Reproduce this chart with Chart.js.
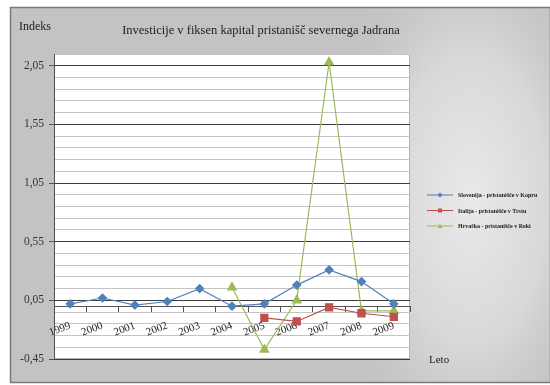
<!DOCTYPE html>
<html>
<head>
<meta charset="utf-8">
<script src="https://cdn.jsdelivr.net/npm/chart.js@4.4.0/dist/chart.umd.min.js"></script>
<style>
  html, body { margin: 0; padding: 0; background: #ffffff; }
  #wrap { width: 550px; height: 385px; position: relative; }
</style>
</head>
<body>
<div id="wrap"><canvas id="c" width="550" height="385"></canvas></div>
<script>
// Leta (kategorije na osi x)
const years = ['1999', '2000', '2001', '2002', '2003', '2004', '2005', '2006', '2007', '2008', '2009'];

// Indeksi investicij po pristaniščih
const koper = [0.02, 0.07, 0.01, 0.04, 0.15, 0.00, 0.02, 0.18, 0.31, 0.21, 0.02];
const trst  = [null, null, null, null, null, null, -0.10, -0.13, -0.01, -0.06, -0.09];
const reka  = [null, null, null, null, null, 0.16, -0.37, 0.05, 2.08, -0.04, -0.04];

const seriesNames = [
  'Slovenija - pristanišče v Kopru',
  'Italija - pristanišče v Trstu',
  'Hrvaška - pristanišče v Reki'
];

// Os y: obseg, korak pomožnih črt in označene vrednosti
const yMin = -0.45;
const yMax = 2.15;
const yStep = 0.1;
const yLabelled = [2.05, 1.55, 1.05, 0.55, 0.05, -0.45];

const chartTitle = 'Investicije v fiksen kapital pristanišč severnega Jadrana';
const yTitle = 'Indeks';
const xTitle = 'Leto';

const SERIF = '"Liberation Serif", "Times New Roman", serif';

function isLabelled(v) {
  return yLabelled.some(m => Math.abs(m - v) < 1e-6);
}

// Ozadje okvirja, bela risalna površina in okvir
const backdrop = {
  id: 'backdrop',
  beforeDraw(chart) {
    const ctx = chart.ctx;
    const a = chart.chartArea;
    ctx.save();
    ctx.fillStyle = '#ffffff';
    ctx.fillRect(0, 0, chart.width, chart.height);
    ctx.fillStyle = '#c3c3c3';
    ctx.fillRect(10.5, 7.5, 540, 375);
    // svetlejši pas na desni strani (raztegnjen radialni preliv)
    ctx.save();
    ctx.beginPath();
    ctx.rect(10.5, 7.5, 540, 375);
    ctx.clip();
    ctx.translate(470, 200);
    ctx.scale(1, 1.9);
    const g = ctx.createRadialGradient(0, 0, 5, 0, 0, 150);
    g.addColorStop(0, '#e8e8e8');
    g.addColorStop(0.5, '#d8d8d8');
    g.addColorStop(1, 'rgba(195,195,195,0)');
    ctx.fillStyle = g;
    ctx.fillRect(-470, -110, 560, 210);
    ctx.restore();
    ctx.strokeStyle = '#7a7a7a';
    ctx.lineWidth = 1.5;
    ctx.strokeRect(10.5, 7.5, 540, 375);
    ctx.fillStyle = '#ffffff';
    ctx.fillRect(a.left, a.top, a.right - a.left, a.bottom - a.top);
    ctx.strokeStyle = '#b4b4b4';
    ctx.lineWidth = 1;
    ctx.strokeRect(a.left + 0.5, a.top + 0.5, a.right - a.left - 1, a.bottom - a.top - 1);
    ctx.restore();
  }
};

// Naslov, naslova osi in legenda
const annotations = {
  id: 'annotations',
  afterDraw(chart) {
    const ctx = chart.ctx;
    ctx.save();
    ctx.fillStyle = '#222222';
    ctx.textBaseline = 'alphabetic';
    ctx.font = '12px ' + SERIF;
    ctx.textAlign = 'left';
    ctx.fillText(yTitle, 19, 30);
    ctx.textAlign = 'center';
    ctx.font = '12.5px ' + SERIF;
    ctx.fillText(chartTitle, 261, 34);
    ctx.textAlign = 'left';
    ctx.font = '11px ' + SERIF;
    ctx.fillText(xTitle, 429, 363);

    const rows = [195, 210.5, 226];
    chart.data.datasets.forEach((ds, i) => {
      const y = rows[i];
      ctx.strokeStyle = ds.borderColor;
      ctx.lineWidth = 1;
      ctx.beginPath();
      ctx.moveTo(427, y);
      ctx.lineTo(453, y);
      ctx.stroke();
      ctx.fillStyle = ds.borderColor;
      ctx.beginPath();
      if (ds.pointStyle === 'rect') {
        ctx.rect(438, y - 2, 4, 4);
      } else if (ds.pointStyle === 'triangle') {
        ctx.moveTo(440, y - 2.5);
        ctx.lineTo(442.5, y + 2);
        ctx.lineTo(437.5, y + 2);
        ctx.closePath();
      } else {
        ctx.moveTo(440, y - 2.5);
        ctx.lineTo(442.5, y);
        ctx.lineTo(440, y + 2.5);
        ctx.lineTo(437.5, y);
        ctx.closePath();
      }
      ctx.fill();
      ctx.fillStyle = '#1a1a1a';
      ctx.font = 'bold 6px ' + SERIF;
      ctx.textBaseline = 'middle';
      ctx.fillText(ds.label, 458, y + 0.5);
    });
    ctx.restore();
  }
};

const chart = new Chart(document.getElementById('c'), {
  type: 'line',
  data: {
    labels: years,
    datasets: [
      {
        label: seriesNames[0], data: koper,
        borderColor: '#4f81bd', backgroundColor: '#4f81bd',
        pointStyle: 'rectRot', pointRadius: 4, borderWidth: 1.2
      },
      {
        label: seriesNames[1], data: trst,
        borderColor: '#c0504d', backgroundColor: '#c0504d',
        pointStyle: 'rect', pointRadius: 5, borderWidth: 1.2
      },
      {
        label: seriesNames[2], data: reka,
        borderColor: '#9bbb59', backgroundColor: '#9bbb59',
        pointStyle: 'triangle', pointRadius: 5, borderWidth: 1.2
      }
    ]
  },
  options: {
    responsive: false,
    animation: false,
    devicePixelRatio: 1,
    layout: { padding: { left: 0, top: 54, right: 140, bottom: 26 } },
    plugins: {
      legend: { display: false },
      title: { display: false },
      tooltip: { enabled: false }
    },
    elements: {
      line: { tension: 0 },
      point: { borderWidth: 0 }
    },
    scales: {
      x: {
        type: 'category',
        position: { y: 0 },
        offset: true,
        grid: {
          offset: true,
          drawOnChartArea: false,
          drawTicks: true,
          tickLength: 5,
          tickColor: '#505050'
        },
        border: { display: true, color: '#505050', width: 1 },
        ticks: {
          autoSkip: false,
          minRotation: 20,
          maxRotation: 20,
          padding: 8,
          color: '#222222',
          font: { family: SERIF, size: 11 }
        }
      },
      y: {
        type: 'linear',
        min: yMin,
        max: yMax,
        afterBuildTicks(scale) {
          const n = Math.round((yMax - yMin) / yStep);
          const t = [];
          for (let i = 0; i <= n; i++) {
            t.push({ value: Math.round((yMin + i * yStep) * 100) / 100 });
          }
          scale.ticks = t;
        },
        afterFit(scale) { scale.width = 54; },
        grid: {
          color: ctx => isLabelled(ctx.tick.value) ? '#3c3c3c' : '#c4c4c4',
          lineWidth: 1,
          tickLength: 5,
          tickColor: ctx => isLabelled(ctx.tick.value) ? '#505050' : 'rgba(0,0,0,0)'
        },
        border: { display: true, color: '#505050', width: 1 },
        ticks: {
          autoSkip: false,
          padding: 5,
          color: '#333333',
          font: { family: SERIF, size: 11.5 },
          callback: v => isLabelled(v) ? v.toFixed(2).replace('.', ',') : ''
        }
      }
    }
  },
  plugins: [backdrop, annotations]
});
</script>
</body>
</html>
